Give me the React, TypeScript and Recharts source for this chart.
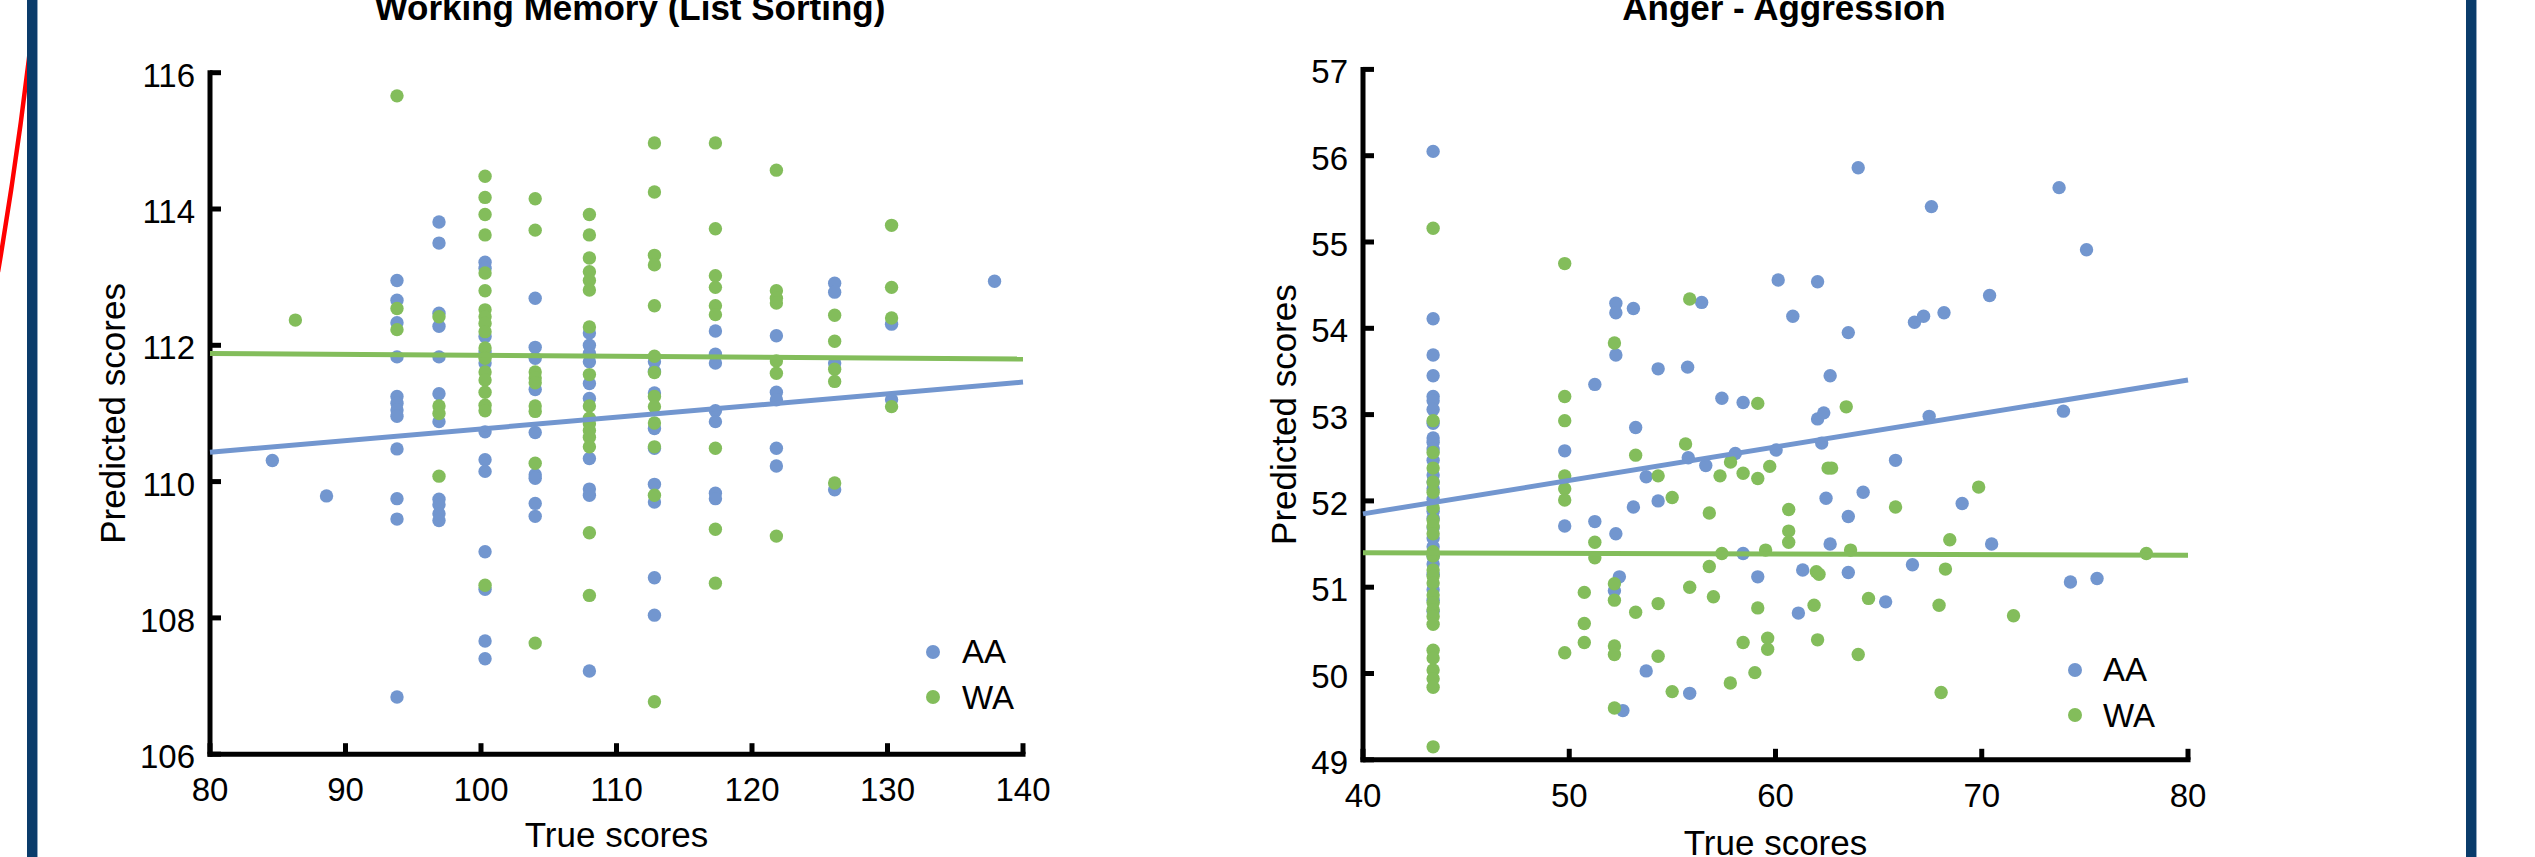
import React from "react";
import { ScatterChart, Scatter, XAxis, YAxis, Legend, Label } from "recharts";

const BLUE = "#7296cf";
const GREEN = "#83bd5b";
const FONT = "'Liberation Sans', Arial, Helvetica, sans-serif";

// Working Memory (List Sorting): [true score, predicted scores at that true score]
const memoryXTicks = [80, 90, 100, 110, 120, 130, 140];
const memoryYTicks = [106, 108, 110, 112, 114, 116];
const memoryAA: [number, number[]][] = [
  [84.6, [110.31]],
  [88.6, [109.79]],
  [93.8, [112.95, 112.66, 112.33, 111.83, 111.25, 111.15, 111.05, 110.96, 110.48, 109.75, 109.45, 106.84]],
  [96.9, [113.81, 113.5, 112.47, 112.28, 111.83, 111.29, 110.88, 109.74, 109.66, 109.53, 109.43]],
  [100.3, [113.22, 113.13, 112.13, 111.9, 111.74, 110.73, 110.32, 110.15, 108.97, 108.42, 107.66, 107.4]],
  [104.0, [112.69, 111.97, 111.81, 111.35, 110.72, 110.1, 110.05, 109.68, 109.49]],
  [108.0, [112.18, 112.0, 111.88, 111.76, 111.44, 111.22, 110.34, 109.89, 109.8, 107.22]],
  [112.8, [111.76, 111.62, 111.3, 110.78, 110.49, 109.96, 109.7, 108.59, 108.04]],
  [117.3, [112.21, 111.87, 111.74, 111.04, 110.88, 109.83, 109.75]],
  [121.8, [112.14, 111.31, 111.2, 110.49, 110.23]],
  [126.1, [112.91, 112.78, 111.74, 109.88]],
  [130.3, [112.31, 111.2]],
  [137.9, [112.94]],
];
const memoryWA: [number, number[]][] = [
  [86.3, [112.37]],
  [93.8, [115.66, 112.54, 112.23]],
  [96.9, [112.42, 111.11, 111.0, 110.08]],
  [100.3, [114.48, 114.17, 113.92, 113.62, 113.06, 112.8, 112.52, 112.42, 112.32, 112.2, 111.96, 111.81, 111.61, 111.49, 111.31, 111.12, 111.04, 108.48]],
  [104.0, [114.15, 113.69, 111.61, 111.52, 111.45, 111.11, 111.03, 110.27, 107.63]],
  [108.0, [113.92, 113.62, 113.28, 113.08, 112.95, 112.81, 112.27, 111.57, 111.11, 110.93, 110.85, 110.75, 110.65, 110.51, 109.25, 108.33]],
  [112.8, [114.97, 114.25, 113.32, 113.18, 112.58, 111.84, 111.6, 111.25, 111.1, 110.86, 110.51, 109.8, 106.77]],
  [117.3, [114.97, 113.71, 113.02, 112.85, 112.58, 112.45, 110.49, 109.3, 108.51]],
  [121.8, [114.57, 112.8, 112.69, 112.62, 111.77, 111.59, 109.2]],
  [126.1, [112.44, 112.06, 111.65, 111.47, 109.98]],
  [130.3, [113.76, 112.85, 112.4, 111.1]],
];
const memoryFitAA: [number, number][] = [[80, 110.43], [140, 111.46]];
const memoryFitWA: [number, number][] = [[80, 111.88], [140, 111.8]];

// Anger - Aggression
const angerXTicks = [40, 50, 60, 70, 80];
const angerYTicks = [49, 50, 51, 52, 53, 54, 55, 56, 57];
const angerFloorScore = 43.4;
const angerAAFloor = [56.05, 54.11, 53.69, 53.45, 53.21, 53.16, 53.06, 52.9, 52.73, 52.68, 52.6, 52.47, 52.3, 52.22, 52.14, 52.02, 51.88, 51.8, 51.69, 51.57, 51.47, 51.36, 51.27, 51.15, 50.97, 50.85, 50.72];
const angerWAFloor = [55.16, 52.93, 52.56, 52.38, 52.22, 52.1, 51.92, 51.78, 51.71, 51.62, 51.41, 51.36, 51.2, 51.13, 51.05, 50.91, 50.82, 50.74, 50.66, 50.57, 50.27, 50.18, 50.04, 49.94, 49.84, 49.15];
const angerAAPoints: [number, number][] = [
  [52.26, 54.29], [52.26, 54.18], [53.11, 54.23], [52.26, 53.69], [51.24, 53.35], [54.31, 53.53], [55.74, 53.55],
  [56.42, 54.3], [57.4, 53.19], [58.43, 53.14], [53.22, 52.85], [49.78, 52.58], [49.78, 51.71], [51.24, 51.76],
  [52.26, 51.62], [53.11, 51.93], [54.31, 52.0], [53.73, 52.28], [55.77, 52.5], [56.62, 52.41], [58.05, 52.55],
  [60.03, 52.59], [60.13, 54.56], [60.84, 54.14], [62.04, 54.54], [62.04, 52.95], [62.34, 53.02], [62.24, 52.67],
  [62.65, 53.45], [63.53, 53.95], [64.01, 55.86], [62.45, 52.03], [63.53, 51.82], [62.65, 51.5], [64.25, 52.1],
  [65.82, 52.47], [66.74, 54.07], [67.18, 54.14], [68.17, 54.18], [67.56, 55.41], [67.45, 52.98], [69.05, 51.97],
  [70.38, 54.38], [70.48, 51.5], [73.75, 55.63], [73.96, 53.04], [75.08, 54.91], [74.3, 51.06], [75.59, 51.1],
  [58.43, 51.39], [59.14, 51.12], [61.32, 51.2], [63.53, 51.17], [61.11, 50.7], [65.34, 50.83], [66.64, 51.26],
  [52.43, 51.12], [52.19, 50.96], [53.73, 50.03], [55.84, 49.77], [52.6, 49.57],
];
const angerWAPoints: [number, number][] = [
  [49.78, 54.75], [55.84, 54.34], [52.19, 53.83], [49.78, 53.21], [49.78, 52.93], [49.78, 52.29], [49.78, 52.14],
  [49.78, 52.01], [49.78, 50.24], [53.22, 52.53], [55.64, 52.66], [57.82, 52.45], [57.31, 52.29], [58.43, 52.32],
  [59.14, 52.26], [59.14, 53.13], [59.72, 52.4], [62.55, 52.38], [62.72, 52.38], [63.43, 53.09], [54.31, 52.29],
  [54.99, 52.04], [56.79, 51.86], [60.64, 51.9], [60.64, 51.65], [60.64, 51.52], [65.82, 51.93], [69.85, 52.16],
  [68.45, 51.55], [51.24, 51.52], [51.24, 51.34], [57.4, 51.39], [59.52, 51.43], [63.64, 51.43], [56.79, 51.24],
  [61.98, 51.18], [62.11, 51.15], [68.24, 51.21], [77.98, 51.39], [52.19, 51.04], [52.19, 50.85], [50.73, 50.94],
  [50.73, 50.58], [50.73, 50.36], [53.22, 50.71], [54.31, 50.81], [55.84, 51.0], [56.99, 50.89], [59.14, 50.76],
  [61.87, 50.79], [64.51, 50.87], [67.93, 50.79], [71.54, 50.67], [52.19, 50.32], [52.19, 50.22], [54.31, 50.2],
  [58.43, 50.36], [59.62, 50.41], [59.62, 50.28], [62.04, 50.39], [64.01, 50.22], [59.0, 50.01], [57.81, 49.89],
  [54.99, 49.79], [52.19, 49.6], [68.03, 49.78],
];
const angerFitAA: [number, number][] = [[40, 51.85], [80, 53.4]];
const angerFitWA: [number, number][] = [[40, 51.4], [80, 51.37]];

const fromColumns = (cols: [number, number[]][]) =>
  cols.flatMap(([x, ys]) => ys.map((y) => ({ x, y })));
const fromPairs = (pts: [number, number][]) => pts.map(([x, y]) => ({ x, y }));

const axisLine = { stroke: "#000", strokeWidth: 5, strokeLinecap: "square" as const };

function XTick(props: any) {
  const { x, y, payload } = props;
  return (
    <g>
      <line x1={x} x2={x} y1={y} y2={y - 11} stroke="#000" strokeWidth={5} />
      <text x={x} y={y + 47} textAnchor="middle" fontSize={33} fontFamily={FONT} fill="#000">
        {payload.value}
      </text>
    </g>
  );
}

function YTick(props: any) {
  const { x, y, payload } = props;
  return (
    <g>
      <line x1={x} x2={x + 11} y1={y} y2={y} stroke="#000" strokeWidth={5} />
      <text x={x - 15} y={y + 14} textAnchor="end" fontSize={33} fontFamily={FONT} fill="#000">
        {payload.value}
      </text>
    </g>
  );
}

const xTitle = (text: string, drop: number) => (props: any) => {
  const vb = props.viewBox;
  return (
    <text x={vb.x + vb.width / 2} y={vb.y + drop} textAnchor="middle" fontSize={35} fontFamily={FONT} fill="#000">
      {text}
    </text>
  );
};

const yTitle = (text: string, gap: number) => (props: any) => {
  const vb = props.viewBox;
  const bx = vb.x + vb.width - gap;
  const cy = vb.y + vb.height / 2;
  return (
    <text x={bx} y={cy} transform={`rotate(-90, ${bx}, ${cy})`} textAnchor="middle" fontSize={35} fontFamily={FONT} fill="#000">
      {text}
    </text>
  );
};

const dot = (color: string) => (p: any) => <circle cx={p.cx} cy={p.cy} r={6.7} fill={color} />;
const noDot = () => <g />;

const legendBox = (gap: number) => (props: any) => (
  <div>
    {(props.payload || [])
      .filter((item: any) => item.type !== "none")
      .map((item: any) => (
        <div key={item.value} style={{ display: "flex", alignItems: "center", height: 45.5 }}>
          <span style={{ width: 14, height: 14, borderRadius: "50%", background: item.color, marginRight: gap }} />
          <span style={{ fontSize: 33, fontFamily: FONT, color: "#000", lineHeight: 1 }}>{item.value}</span>
        </div>
      ))}
  </div>
);

function MemoryChart() {
  return (
    <ScatterChart width={1100} height={857} margin={{ top: 72.7, right: 77, bottom: 42.8, left: 100 }}>
      <XAxis type="number" dataKey="x" domain={[80, 140]} ticks={memoryXTicks} interval={0} height={60}
        tickSize={0} tickMargin={0} tickLine={false} axisLine={axisLine} tick={(p: any) => <XTick {...p} />}>
        <Label content={xTitle("True scores", 93)} />
      </XAxis>
      <YAxis type="number" dataKey="y" domain={[106, 116]} ticks={memoryYTicks} interval={0} width={110}
        tickSize={0} tickMargin={0} tickLine={false} axisLine={axisLine} tick={(p: any) => <YTick {...p} />}>
        <Label content={yTitle("Predicted scores", 85)} />
      </YAxis>
      <Legend layout="vertical" align="center" verticalAlign="middle" content={legendBox(22)}
        wrapperStyle={{ left: 926, top: 628.75 }} />
      <Scatter name="AA" data={fromColumns(memoryAA)} fill={BLUE} shape={dot(BLUE)} isAnimationActive={false} />
      <Scatter name="WA" data={fromColumns(memoryWA)} fill={GREEN} shape={dot(GREEN)} isAnimationActive={false} />
      <Scatter name="AA fit" legendType="none" data={fromPairs(memoryFitAA)} fill={BLUE} shape={noDot}
        line={{ stroke: BLUE, strokeWidth: 5 }} isAnimationActive={false} />
      <Scatter name="WA fit" legendType="none" data={fromPairs(memoryFitWA)} fill={GREEN} shape={noDot}
        line={{ stroke: GREEN, strokeWidth: 5 }} isAnimationActive={false} />
    </ScatterChart>
  );
}

function AngerChart() {
  const aa = [...angerAAFloor.map((y) => ({ x: angerFloorScore, y })), ...fromPairs(angerAAPoints)];
  const wa = [...angerWAFloor.map((y) => ({ x: angerFloorScore, y })), ...fromPairs(angerWAPoints)];
  return (
    <ScatterChart width={1200} height={857} margin={{ top: 69.4, right: 112, bottom: 37.2, left: 153 }}>
      <XAxis type="number" dataKey="x" domain={[40, 80]} ticks={angerXTicks} interval={0} height={60}
        tickSize={0} tickMargin={0} tickLine={false} axisLine={axisLine} tick={(p: any) => <XTick {...p} />}>
        <Label content={xTitle("True scores", 95)} />
      </XAxis>
      <YAxis type="number" dataKey="y" domain={[49, 57]} ticks={angerYTicks} interval={0} width={110}
        tickSize={0} tickMargin={0} tickLine={false} axisLine={axisLine} tick={(p: any) => <YTick {...p} />}>
        <Label content={yTitle("Predicted scores", 67)} />
      </YAxis>
      <Legend layout="vertical" align="center" verticalAlign="middle" content={legendBox(21)}
        wrapperStyle={{ left: 968, top: 646.75 }} />
      <Scatter name="AA" data={aa} fill={BLUE} shape={dot(BLUE)} isAnimationActive={false} />
      <Scatter name="WA" data={wa} fill={GREEN} shape={dot(GREEN)} isAnimationActive={false} />
      <Scatter name="AA fit" legendType="none" data={fromPairs(angerFitAA)} fill={BLUE} shape={noDot}
        line={{ stroke: BLUE, strokeWidth: 5 }} isAnimationActive={false} />
      <Scatter name="WA fit" legendType="none" data={fromPairs(angerFitWA)} fill={GREEN} shape={noDot}
        line={{ stroke: GREEN, strokeWidth: 5 }} isAnimationActive={false} />
    </ScatterChart>
  );
}

export default function App() {
  return (
    <div style={{ position: "absolute", left: 0, top: 0, width: 2535, height: 857, background: "#fff", overflow: "hidden" }}>
      {/* slide frame and titles */}
      <svg width={2535} height={857} style={{ position: "absolute", left: 0, top: 0 }}>
        <path d="M 36 -4 Q 22 130 -2 272" stroke="#ff0000" strokeWidth={4.5} fill="none" />
        <rect x={27} y={0} width={10} height={857} fill="#0a3c6b" />
        <rect x={37} y={0} width={1} height={857} fill="#8fa6bf" />
        <rect x={2466} y={0} width={10} height={857} fill="#0a3c6b" />
        <rect x={2476} y={0} width={1} height={857} fill="#8fa6bf" />
        <text x={630} y={20} textAnchor="middle" fontSize={35} fontWeight="bold" fontFamily={FONT} fill="#000">
          Working Memory (List Sorting)
        </text>
        <text x={1784} y={20} textAnchor="middle" fontSize={35} fontWeight="bold" fontFamily={FONT} fill="#000">
          Anger - Aggression
        </text>
      </svg>
      <div style={{ position: "absolute", left: 0, top: 0 }}>
        <MemoryChart />
      </div>
      <div style={{ position: "absolute", left: 1100, top: 0 }}>
        <AngerChart />
      </div>
    </div>
  );
}
